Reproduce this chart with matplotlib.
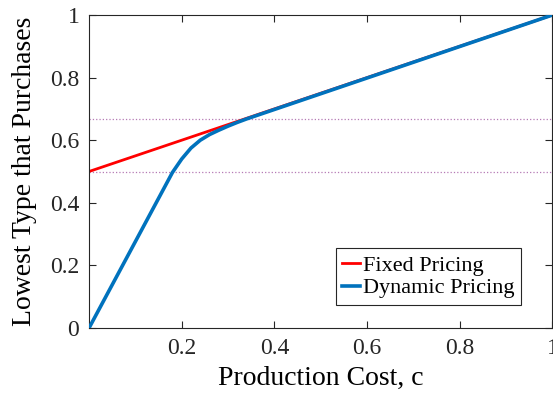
import matplotlib
matplotlib.use("Agg")
import matplotlib.pyplot as plt

plt.rcParams["font.family"] = ["Liberation Serif", "DejaVu Serif"]

# production cost and lowest purchasing type
cost_fixed = [0.0, 1.0]
type_fixed = [0.5, 1.0]

cost_dynamic = [0.0, 0.18, 0.20, 0.22, 0.24, 0.26, 0.28, 0.30, 0.32, 0.34, 1.0]
type_dynamic = [0.0, 0.497, 0.54, 0.575, 0.600, 0.618, 0.632, 0.645, 0.657, 0.668, 1.0]

ref_levels = [0.5, 2 / 3]

x_ticks = [0.2, 0.4, 0.6, 0.8, 1.0]
x_tick_labels = ["0.2", "0.4", "0.6", "0.8", "1"]
y_ticks = [0, 0.2, 0.4, 0.6, 0.8, 1.0]
y_tick_labels = ["0", "0.2", "0.4", "0.6", "0.8", "1"]

fig = plt.figure(figsize=(5.53, 4.0), dpi=100)
ax = fig.add_axes([0.161, 0.18, 0.838, 0.7825])

for lvl in ref_levels:
    ax.axhline(lvl, color="#b57ab5", linestyle=":", linewidth=0.9, zorder=1)

ax.plot(cost_fixed, type_fixed, color="#ff0000", linewidth=2.0, label="Fixed Pricing", zorder=2)
ax.plot(cost_dynamic, type_dynamic, color="#0072bd", linewidth=2.6, label="Dynamic Pricing", zorder=3)

ax.set_xlim(0, 1)
ax.set_ylim(0, 1)
ax.set_xticks(x_ticks)
ax.set_xticklabels(x_tick_labels)
ax.set_yticks(y_ticks)
ax.set_yticklabels(y_tick_labels)
ax.tick_params(direction="in", top=True, right=True, labelsize=17, length=5,
               width=0.8, colors="#262626", pad=7)
for s in ax.spines.values():
    s.set_color("#262626")
    s.set_linewidth(0.8)

ax.set_xlabel("Production Cost, c", fontsize=20, labelpad=5)
ax.set_ylabel("Lowest Type that Purchases", fontsize=20, labelpad=9)

leg = ax.legend(loc="lower right", bbox_to_anchor=(0.932, 0.073), borderaxespad=0,
                fontsize=16, handlelength=0.8, handletextpad=0.12, borderpad=0.3,
                labelspacing=0.1, fancybox=False, framealpha=1)
leg.get_frame().set_edgecolor("#262626")
leg.get_frame().set_linewidth(0.8)

fig.savefig("out.png", dpi=100)
